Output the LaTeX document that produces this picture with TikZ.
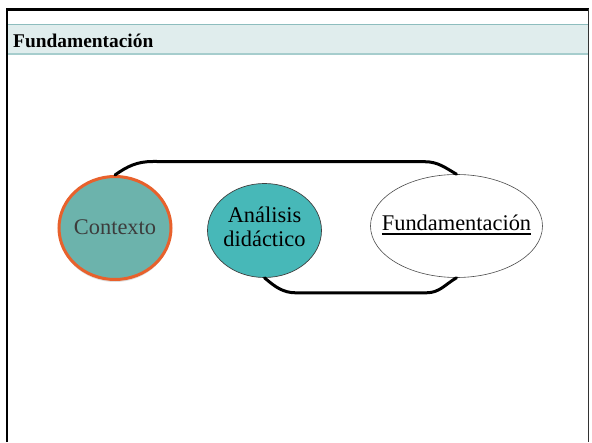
\documentclass[tikz,border=0pt]{standalone}
\usepackage{fontspec}
\setmainfont{Liberation Serif}
\usetikzlibrary{shapes.geometric,shadows,calc}

\definecolor{bandfill}{HTML}{E0EDED}
\definecolor{bandtop}{HTML}{8DBDBE}
\definecolor{bandbot}{HTML}{A6CDCD}
\definecolor{ctxfill}{HTML}{6CB3AC}
\definecolor{ctxline}{HTML}{E8612C}
\definecolor{ctxtext}{HTML}{3C3C3C}
\definecolor{anafill}{HTML}{47B8B8}

% underlined label with a rule scaled to the large type
\newcommand\ulinetext[1]{\setbox0\hbox{#1}\rlap{\rule[-3.6pt]{\wd0}{1.1pt}}\box0}

\tikzset{
  bubble/.style={ellipse, inner sep=0pt},
  bubbletext/.style={inner sep=0pt, align=center,
    font=\fontsize{22.4}{23}\selectfont},
  link/.style={line width=3pt, line cap=round},
}

\begin{document}
\begin{tikzpicture}[x=1pt,y=1pt]
  \useasboundingbox (0,0) rectangle (592,442);
  \fill[white] (0,0) rectangle (592,442);

  % title band
  \fill[bandfill] (8,387.5) rectangle (588,417);
  \draw[bandtop, line width=1pt] (8,417) -- (588,417);
  \draw[bandbot, line width=2pt] (8,387.5) -- (588,387.5);
  \node[anchor=base west, inner sep=0pt,
        font=\fontsize{19.4}{20}\selectfont\bfseries] (title) at (13,394.3) {Fundamentación};

  % slide frame
  \draw[line width=2.5pt] (7,0) -- (7,432.5) -- (588.5,432.5);
  \draw[black!80, line width=1.5pt] (588.5,432.5) -- (588.5,0);

  % the three ellipses
  \node[bubble, minimum width=112pt, minimum height=103pt,
        fill=ctxfill, draw=ctxline, line width=3pt,
        drop shadow={shadow xshift=0pt, shadow yshift=-2.5pt, opacity=0.25}]
        (ctx) at (115,214) {};
  \node[bubble, minimum width=114pt, minimum height=94pt,
        fill=anafill, draw=black!75, line width=0.7pt]
        (ana) at (264.5,211.5) {};
  \node[bubble, minimum width=172pt, minimum height=103pt,
        fill=white, draw=black!70, line width=0.6pt]
        (fund) at (456.5,216) {};

  % their labels
  \node[bubbletext, text=ctxtext] (ctxlabel) at ([yshift=1pt]ctx.center) {Contexto};
  \node[bubbletext] (analabel) at ([yshift=4pt]ana.center) {Análisis\\[1pt]didáctico};
  \node[bubbletext] (fundlabel) at ([yshift=1pt]fund.center) {\ulinetext{Fundamentación}};

  % connectors
  \coordinate (tl) at ($(ctx.north)+(38,13.5)$);
  \coordinate (tr) at ($(fund.north)+(-32,12.5)$);
  \draw[link] (ctx.north) to[out=35,in=180] (tl) -- (tr) to[out=0,in=150] (fund.north);

  \coordinate (bl) at ($(ana.south)+(32,-15)$);
  \coordinate (br) at ($(fund.south)+(-30,-15)$);
  \draw[link] (ana.south) to[out=-40,in=180] (bl) -- (br) to[out=0,in=-150] (fund.south);
\end{tikzpicture}
\end{document}
